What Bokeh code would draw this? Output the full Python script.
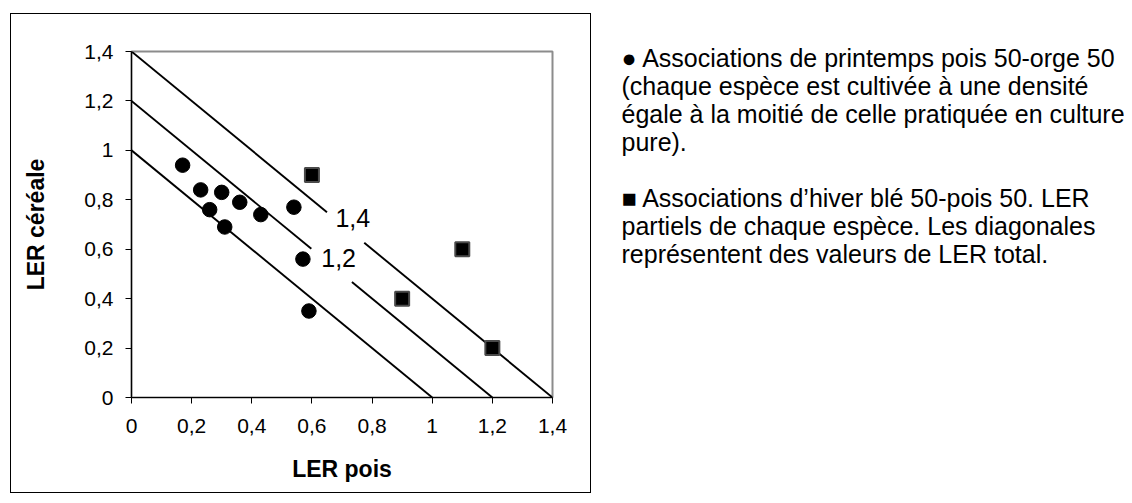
from bokeh.plotting import figure
from bokeh.models import Label, FixedTicker, CustomJSTickFormatter, Range1d, ColumnDataSource, Spacer
from bokeh.layouts import row, column
from bokeh.core.properties import value
from bokeh.embed import file_html
from bokeh.resources import INLINE

# ---------------- data ----------------
pois_printemps = [0.17, 0.23, 0.30, 0.26, 0.36, 0.31, 0.43, 0.54, 0.57, 0.59]
cereale_printemps = [0.94, 0.84, 0.83, 0.76, 0.79, 0.69, 0.74, 0.77, 0.56, 0.35]
pois_hiver = [0.6, 1.1, 0.9, 1.2]
cereale_hiver = [0.9, 0.6, 0.4, 0.2]
ler_totaux = [1.0, 1.2, 1.4]
ler_etiquettes = ["", "1,2", "1,4"]
tick_values = [0, 0.2, 0.4, 0.6, 0.8, 1.0, 1.2, 1.4]
x_title = "LER pois"
y_title = "LER céréale"
para1 = ["● Associations de printemps pois 50-orge 50",
         "(chaque espèce est cultivée à une densité",
         "égale à la moitié de celle pratiquée en culture",
         "pure)."]
para2 = ["■ Associations d’hiver blé 50-pois 50. LER",
         "partiels de chaque espèce. Les diagonales",
         "représentent des valeurs de LER total."]

# ---------------- layout ----------------
FONT = "Liberation Sans"
OX, OY = 10, 13            # outer box top-left
OW, OH = 581, 480          # outer box size
CW, CH = OW - 2, OH - 2    # chart canvas inside the 1px box lines
FL, FT, FW, FH = 120, 37, 421, 346   # plot frame inside chart canvas
XMAX = 1.4

chart = figure(width=CW, height=CH, x_range=Range1d(0, XMAX), y_range=Range1d(0, XMAX),
               output_backend="svg", toolbar_location=None,
               min_border_left=FL, min_border_right=CW - FL - FW,
               min_border_top=FT, min_border_bottom=CH - FT - FH)
chart.xgrid.visible = False
chart.ygrid.visible = False
chart.background_fill_color = "white"
chart.border_fill_color = "white"
chart.outline_line_color = "#8c8c8c"
chart.outline_line_width = 2

fmt = CustomJSTickFormatter(code="var s = (Math.round(tick*10)/10).toString(); return s.replace('.', ',');")
for ax in (chart.xaxis[0], chart.yaxis[0]):
    ax.ticker = FixedTicker(ticks=tick_values)
    ax.formatter = fmt
    ax.axis_line_color = "black"
    ax.axis_line_width = 1.2
    ax.major_tick_line_color = "black"
    ax.major_tick_out = 6
    ax.major_tick_in = 0
    ax.minor_tick_line_color = None
    ax.major_label_text_font = FONT
    ax.major_label_text_font_size = "21px"
    ax.major_label_text_color = "black"
    ax.axis_label_text_font = FONT
    ax.axis_label_text_font_size = "23px"
    ax.axis_label_text_font_style = "bold"
    ax.axis_label_text_color = "black"

chart.xaxis.axis_label = x_title
chart.yaxis.axis_label = y_title
chart.xaxis.major_label_standoff = 15
chart.xaxis.axis_label_standoff = 20
chart.yaxis.major_label_standoff = 12
chart.yaxis.axis_label_standoff = 32

# diagonal LER total lines with gaps for their labels
gaps = {1.2: (0.598, 0.733), 1.4: (0.650, 0.774)}
for tot in ler_totaux:
    if tot in gaps:
        g0, g1 = gaps[tot]
        segs = [(0.0, g0), (g1, tot)]
    else:
        segs = [(0.0, tot)]
    for a, b in segs:
        chart.line([a, b], [tot - a, tot - b], line_color="black", line_width=1.9)

label_pos = {1.2: (0.631, 0.563), 1.4: (0.678, 0.728)}
for tot, txt in zip(ler_totaux, ler_etiquettes):
    if txt:
        lx, ly = label_pos[tot]
        chart.add_layout(Label(x=lx, y=ly, text=txt, text_font=FONT, text_font_size="25px",
                               text_baseline="middle", text_align="left", text_color="black"))

chart.scatter(pois_printemps, cereale_printemps, marker="circle", size=14.5,
              fill_color="black", line_color="black")
chart.scatter(pois_hiver, cereale_hiver, marker="square", size=14,
              fill_color="black", line_color="#4a4a4a", line_width=2)

# outer box made of 1px black strips around the chart
def strip(w, h):
    return Spacer(width=w, height=h, styles={"background-color": "black"})

boxed = column(strip(OW, 1), row(strip(1, CH), chart, strip(1, CH)), strip(OW, 1))

# ---------------- explanatory text ----------------
TW = 1124 - (OX + OW)
TH = OH
txt_fig = figure(width=TW, height=TH, x_range=Range1d(0, TW), y_range=Range1d(TH, 0),
                 output_backend="svg", toolbar_location=None,
                 x_axis_type=None, y_axis_type=None,
                 min_border=0, min_border_left=0, min_border_right=0,
                 min_border_top=0, min_border_bottom=0)
for f in (chart, txt_fig):
    try:
        f.frame_align = False
    except AttributeError:
        pass
txt_fig.xgrid.visible = False
txt_fig.ygrid.visible = False
txt_fig.outline_line_color = None
txt_fig.background_fill_color = "white"
txt_fig.border_fill_color = "white"

TX = 621 - (OX + OW)
Y0 = 57 - OY
LS = 28
all_lines = para1 + [""] + para2
ys = [Y0 + i * LS for i, t in enumerate(all_lines) if t]
texts = [t for t in all_lines if t]
src = ColumnDataSource(dict(x=[TX] * len(texts), y=ys, text=texts))
txt_fig.text(x="x", y="y", text="text", source=src, text_font=value(FONT),
             text_font_size="25px", text_baseline="middle", text_align="left", text_color="black")

layout = column(Spacer(height=OY), row(Spacer(width=OX), boxed, txt_fig))
open("out.html", "w").write(file_html(layout, INLINE))
